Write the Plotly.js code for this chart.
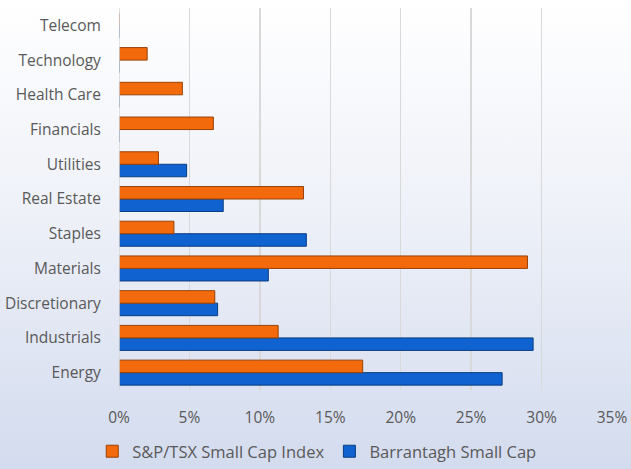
<!DOCTYPE html>
<html><head><meta charset="utf-8">
<script src="https://cdn.plot.ly/plotly-3.0.1.min.js"></script>
<style>
html,body{margin:0;padding:0;}
#chart{width:631px;height:469px;background:linear-gradient(to bottom,#ffffff 0%,#eef1f8 45%,#d3dbee 100%);}
</style></head>
<body><div id="chart"></div>
<script>
const categories = ["Energy","Industrials","Discretionary","Materials","Staples","Real Estate","Utilities","Financials","Health Care","Technology","Telecom"];
const spTsx = [17.3, 11.3, 6.8, 29.0, 3.9, 13.1, 2.8, 6.7, 4.5, 2.0, 0];
const barrantagh = [27.2, 29.4, 7.0, 10.6, 13.3, 7.4, 4.8, 0, 0, 0, 0];
const xTicks = [0,5,10,15,20,25,30,35];
const xTickLabels = ["0%","5%","10%","15%","20%","25%","30%","35%"];

const traces = [
  {type:'bar', orientation:'h', name:'Barrantagh Small Cap', y:categories, x:barrantagh,
   marker:{color:'#0f62cf', line:{color:'#0a3d80', width:1}}, legendrank:2, hoverinfo:'x+y'},
  {type:'bar', orientation:'h', name:'S&P/TSX Small Cap Index', y:categories, x:spTsx,
   marker:{color:'#f26a0c', line:{color:'#9a4206', width:1}}, legendrank:1, hoverinfo:'x+y'}
];
const layout = {
  width:631, height:469,
  margin:{l:119, r:19, t:8, b:79},
  paper_bgcolor:'rgba(0,0,0,0)', plot_bgcolor:'rgba(0,0,0,0)',
  barmode:'group', bargap:0.28, bargroupgap:0,
  font:{family:'Open Sans, sans-serif', size:15.5, color:'#595959'},
  xaxis:{range:[0,35], tickvals:xTicks, ticktext:xTickLabels, showgrid:true, gridcolor:'#d9d9d9', gridwidth:1.5,
         zeroline:false, showline:false, ticks:'outside', ticklen:13, tickcolor:'rgba(0,0,0,0)', fixedrange:true},
  yaxis:{categoryorder:'array', categoryarray:categories, showgrid:false, zeroline:false, showline:false,
         ticks:'outside', ticklen:14, tickcolor:'rgba(0,0,0,0)', fixedrange:true},
  shapes:[{type:'line', xref:'x', yref:'paper', x0:0, x1:0, y0:0, y1:1, line:{color:'#d9d9d9', width:1.5}}],
  showlegend:true,
  legend:{orientation:'h', xref:'container', yref:'container', x:0.502, xanchor:'center', y:0, yanchor:'bottom',
          font:{size:16.5, color:'#595959'}, itemwidth:30, bgcolor:'rgba(0,0,0,0)'}
};
Plotly.newPlot('chart', traces, layout, {displayModeBar:false, staticPlot:true});
</script></body></html>
